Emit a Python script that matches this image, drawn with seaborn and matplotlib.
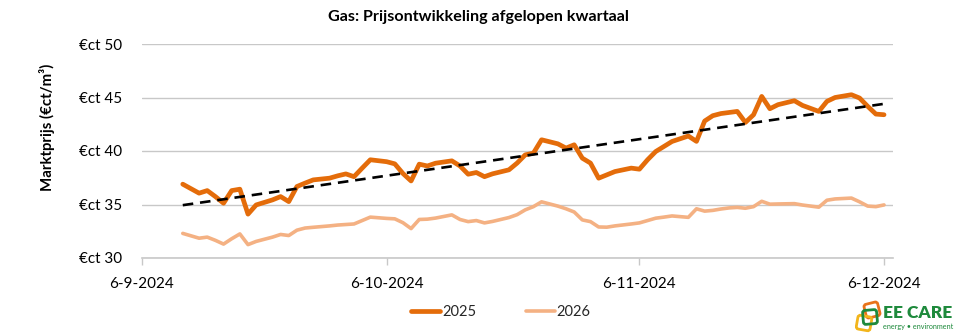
import matplotlib
matplotlib.use("Agg")
import matplotlib.pyplot as plt
import matplotlib.dates as mdates
from matplotlib.lines import Line2D
from matplotlib.patches import FancyBboxPatch
import matplotlib.transforms as mtransforms
import seaborn as sns
import pandas as pd
import numpy as np

# ---------------- data ----------------
dates = [
    "2024-09-11", "2024-09-13", "2024-09-14", "2024-09-15", "2024-09-16", "2024-09-17",
    "2024-09-18", "2024-09-19", "2024-09-20", "2024-09-22", "2024-09-23", "2024-09-24",
    "2024-09-25", "2024-09-26", "2024-09-27", "2024-09-29", "2024-09-30", "2024-10-01",
    "2024-10-02", "2024-10-03", "2024-10-04", "2024-10-06", "2024-10-07", "2024-10-08",
    "2024-10-09", "2024-10-10", "2024-10-11", "2024-10-12", "2024-10-14", "2024-10-15",
    "2024-10-16", "2024-10-17", "2024-10-18", "2024-10-19", "2024-10-21", "2024-10-22",
    "2024-10-23", "2024-10-24", "2024-10-25", "2024-10-27", "2024-10-28", "2024-10-29",
    "2024-10-30", "2024-10-31", "2024-11-01", "2024-11-02", "2024-11-03", "2024-11-05",
    "2024-11-06", "2024-11-07", "2024-11-08", "2024-11-09", "2024-11-10", "2024-11-12",
    "2024-11-13", "2024-11-14", "2024-11-15", "2024-11-16", "2024-11-17", "2024-11-18",
    "2024-11-19", "2024-11-20", "2024-11-21", "2024-11-22", "2024-11-23", "2024-11-25",
    "2024-11-26", "2024-11-28", "2024-11-29", "2024-11-30", "2024-12-02", "2024-12-03",
    "2024-12-04", "2024-12-05", "2024-12-06",
]
prices_2025 = [
    36.90, 36.06, 36.30, 35.74, 35.12, 36.30, 36.43, 34.10, 34.96, 35.43, 35.74, 35.27,
    36.68, 37.00, 37.30, 37.46, 37.68, 37.86, 37.60, 38.40, 39.18, 39.00, 38.80, 37.90,
    37.20, 38.77, 38.60, 38.86, 39.08, 38.60, 37.83, 37.99, 37.60, 37.87, 38.24, 38.87,
    39.64, 39.80, 41.05, 40.67, 40.27, 40.58, 39.33, 38.87, 37.46, 37.77, 38.08, 38.40,
    38.30, 39.18, 39.95, 40.42, 40.89, 41.40, 40.90, 42.80, 43.30, 43.50, 43.60, 43.70,
    42.67, 43.39, 45.10, 43.95, 44.33, 44.70, 44.26, 43.70, 44.64, 45.00, 45.26, 44.95,
    44.17, 43.45, 43.39,
]
prices_2026 = [
    32.30, 31.85, 31.95, 31.65, 31.30, 31.80, 32.25, 31.25, 31.55, 31.95, 32.20, 32.10,
    32.60, 32.80, 32.87, 33.00, 33.08, 33.13, 33.18, 33.50, 33.82, 33.70, 33.66, 33.30,
    32.75, 33.60, 33.63, 33.73, 34.03, 33.60, 33.40, 33.50, 33.28, 33.42, 33.78, 34.05,
    34.50, 34.80, 35.25, 34.85, 34.60, 34.30, 33.56, 33.40, 32.90, 32.88, 33.00, 33.18,
    33.28, 33.50, 33.72, 33.82, 33.93, 33.80, 34.60, 34.38, 34.45, 34.58, 34.68, 34.73,
    34.65, 34.80, 35.30, 35.03, 35.05, 35.08, 34.95, 34.75, 35.40, 35.52, 35.60, 35.25,
    34.85, 34.80, 34.96,
]
series_labels = ["2025", "2026"]
y_ticks = [30, 35, 40, 45, 50]
x_tick_dates = ["2024-09-06", "2024-10-06", "2024-11-06", "2024-12-06"]
title = "Gas: Prijsontwikkeling afgelopen kwartaal"
y_label = "Marktprijs (€ct/m³)"

# ---------------- style ----------------
c2025 = "#E46C0A"
c2026 = "#F4B183"
grid_c = "#C8C8C8"

df = pd.DataFrame({"datum": pd.to_datetime(dates),
                   series_labels[0]: prices_2025,
                   series_labels[1]: prices_2026})

sns.set_theme(style="white")
plt.rcParams['font.family'] = ['Lato', 'DejaVu Sans']

fig = plt.figure(figsize=(9.57, 3.36), dpi=100)
ax = fig.add_axes([142 / 957, 1 - 258 / 336, (893 - 142) / 957, (258 - 44) / 336])

sns.lineplot(data=df, x="datum", y=series_labels[1], ax=ax, color=c2026, lw=2.6,
             solid_joinstyle="round", solid_capstyle="round", zorder=3)
sns.lineplot(data=df, x="datum", y=series_labels[0], ax=ax, color=c2025, lw=3.4,
             solid_joinstyle="round", solid_capstyle="round", zorder=4)

# linear trend of 2025 series
xnum = mdates.date2num(df["datum"])
coef = np.polyfit(xnum, df[series_labels[0]].values, 1)
trend = np.polyval(coef, xnum)
sns.lineplot(x=df["datum"], y=trend, ax=ax, color="black", lw=1.9,
             linestyle=(0, (4, 2.6)), zorder=5)

# axes
x0 = mdates.date2num(pd.Timestamp("2024-09-06"))
ax.set_xlim(x0, x0 + 92.1)
ax.set_ylim(30, 50)
ax.set_yticks(y_ticks)
ax.set_yticklabels([f"€ct {v}" for v in y_ticks])
xt = pd.to_datetime(x_tick_dates)
ax.set_xticks(mdates.date2num(xt))
ax.set_xticklabels([f"{d.day}-{d.month}-{d.year}" for d in xt])
ax.set_xlabel("")
ax.set_ylabel("")
ax.grid(axis="y", color=grid_c, lw=1.0)
ax.grid(axis="x", visible=False)
for s in ["left", "top", "right"]:
    ax.spines[s].set_visible(False)
ax.spines["bottom"].set_color(grid_c)
ax.spines["bottom"].set_linewidth(1.2)
ax.tick_params(axis="y", length=0, pad=14, labelsize=11, labelcolor="#000000")
ax.tick_params(axis="x", length=5, width=1, color=grid_c, direction="out",
               pad=9, labelsize=11, labelcolor="#000000", bottom=True)
if ax.get_legend():
    ax.get_legend().remove()

fig.text(0.5, 1 - 17 / 336, title, ha="center", va="center",
         fontsize=11.6, fontweight="bold", color="black")
fig.text(47 / 957, 1 - 127 / 336, y_label, ha="center", va="center",
         rotation=90, fontsize=10.8, fontweight="bold", color="black")

handles = [Line2D([], [], color=c2025, lw=3.4, solid_capstyle="round"),
           Line2D([], [], color=c2026, lw=2.6, solid_capstyle="round")]
fig.legend(handles, series_labels, loc="center", bbox_to_anchor=(501 / 957, 1 - 312 / 336),
           ncol=2, frameon=False, handlelength=2.0, handletextpad=0.12,
           columnspacing=3.4, fontsize=10.5)

# logo
lax = fig.add_axes([855 / 957, 1 - 333 / 336, 28 / 957, 34 / 336])
lax.set_xlim(0, 28)
lax.set_ylim(0, 34)
lax.axis("off")
for (cx, cy, size, ang, col) in [(17, 23, 14, 14, "#E8731A"),
                                  (9, 10, 14, -10, "#F2B51C"),
                                  (15, 16, 14, 5, "#1E8A3C")]:
    r = FancyBboxPatch((cx - size / 2, cy - size / 2), size, size,
                       boxstyle="round,pad=0,rounding_size=2.5", fill=False,
                       lw=2.0, edgecolor=col,
                       transform=mtransforms.Affine2D().rotate_deg_around(cx, cy, ang) + lax.transData)
    lax.add_patch(r)
fig.text(918 / 957, 1 - 313 / 336, "EE CARE", ha="center", va="center",
         fontsize=12.5, fontweight="heavy", color="#1E8A3C")
fig.text(918 / 957, 1 - 327 / 336, "energy • environment", ha="center", va="center",
         fontsize=5.2, color="#1E8A3C")

fig.savefig("out.png", dpi=100)
